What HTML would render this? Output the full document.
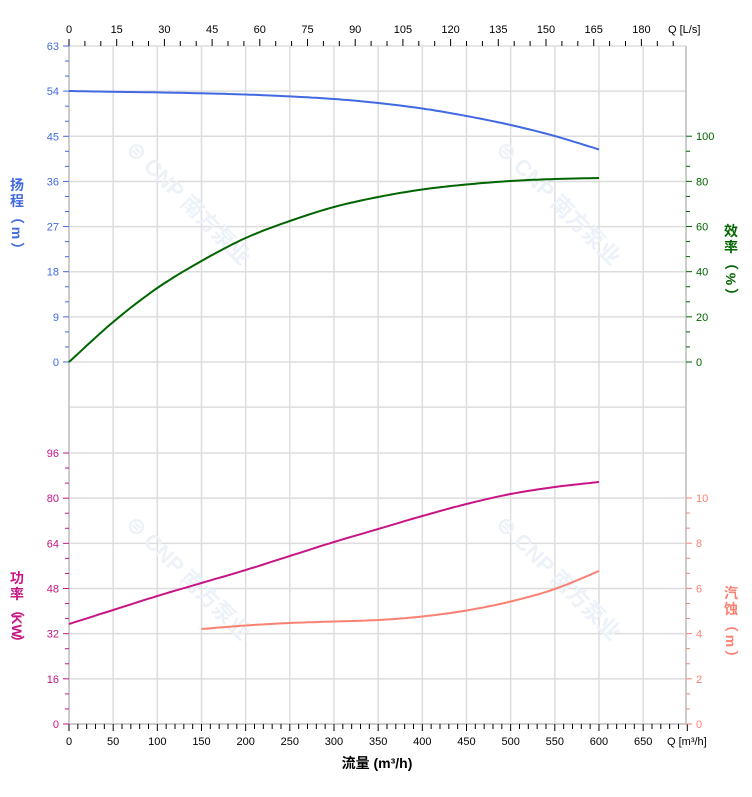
<!DOCTYPE html>
<html><head><meta charset="utf-8"><style>
html,body{margin:0;padding:0;background:#fff;}
svg{display:block;font-family:"Liberation Sans","Noto Sans CJK SC",sans-serif;}
</style></head><body>
<svg id="s" width="752" height="797" xmlns="http://www.w3.org/2000/svg"></svg>
<script>
var s=document.getElementById('s'),h='';
function X(q){return 69+q*0.8833;}
var L=69,R=686,T=46,B=724;
for(var q=50;q<=650;q+=50){h+='<line x1="'+X(q)+'" y1="'+T+'" x2="'+X(q)+'" y2="'+B+'" stroke="#ddd" stroke-width="1.5"/>';}
for(var i=-1;i<=7;i++){var y=362-i*45.14;h+='<line x1="'+L+'" y1="'+y+'" x2="'+R+'" y2="'+y+'" stroke="#ddd" stroke-width="1.5"/>';}
for(var i=0;i<=6;i++){var y=724-i*45.17;h+='<line x1="'+L+'" y1="'+y+'" x2="'+R+'" y2="'+y+'" stroke="#ddd" stroke-width="1.5"/>';}
[[125,150],[495,150],[125,525],[495,525]].forEach(function(p){h+='<text x="'+p[0]+'" y="'+p[1]+'" transform="rotate(45 '+p[0]+' '+p[1]+')" font-size="22" font-weight="bold" fill="#edf2f9">⊜ CNP 南方泵业</text>';});
h+='<line x1="'+L+'" y1="'+T+'" x2="'+L+'" y2="'+B+'" stroke="#ccc" stroke-width="2"/>';
h+='<line x1="'+R+'" y1="'+T+'" x2="'+R+'" y2="'+B+'" stroke="#ccc" stroke-width="2"/>';
h+='<line x1="'+L+'" y1="'+B+'" x2="'+R+'" y2="'+B+'" stroke="#ccc" stroke-width="2"/>';
for(var q=0;q<=700;q+=10){var x=X(q);var m=q%50==0;h+='<line x1="'+x+'" y1="'+B+'" x2="'+x+'" y2="'+(B+(m?7:5))+'" stroke="#000"/>';if(m&&q<=650)h+='<text x="'+x+'" y="745" font-size="11" text-anchor="middle">'+q+'</text>';}
h+='<text x="667" y="745" font-size="11">Q [m³/h]</text>';
for(var l=0;l<=190;l+=5){var x=69+l*3.18;if(x>R+1)break;var m=l%15==0;h+='<line x1="'+x+'" y1="'+T+'" x2="'+x+'" y2="'+(T-(m?7:5))+'" stroke="#000"/>';if(m)h+='<text x="'+x+'" y="33" font-size="11" text-anchor="middle">'+l+'</text>';}
h+='<text x="668" y="33" font-size="11">Q [L/s]</text>';
for(var v=0;v<=63;v+=3){var y=362-v*5.016;var m=v%9==0;h+='<line x1="'+L+'" y1="'+y+'" x2="'+(L-(m?6:4))+'" y2="'+y+'" stroke="#4169E1"/>';if(m)h+='<text x="59" y="'+(y+4)+'" font-size="11" text-anchor="end" fill="#4169E1">'+v+'</text>';}
for(var k=0;k<=18;k++){var v=k*16/3;var y=724-v*2.823;var m=k%3==0;h+='<line x1="'+L+'" y1="'+y+'" x2="'+(L-(m?6:4))+'" y2="'+y+'" stroke="#C71585"/>';if(m)h+='<text x="59" y="'+(y+4)+'" font-size="11" text-anchor="end" fill="#C71585">'+Math.round(v)+'</text>';}
for(var k=0;k<=15;k++){var v=k*20/3;var y=362-v*2.258;var m=k%3==0;h+='<line x1="'+R+'" y1="'+y+'" x2="'+(R+(m?6:4))+'" y2="'+y+'" stroke="#006400"/>';if(m)h+='<text x="696" y="'+(y+4)+'" font-size="11" fill="#006400">'+Math.round(v)+'</text>';}
for(var k=0;k<=15;k++){var v=k*2/3;var y=724-v*22.6;var m=k%3==0;h+='<line x1="'+R+'" y1="'+y+'" x2="'+(R+(m?6:4))+'" y2="'+y+'" stroke="#FA8072"/>';if(m)h+='<text x="696" y="'+(y+4)+'" font-size="11" fill="#FA8072">'+Math.round(v)+'</text>';}
function vt(x,y,c,arr){arr.forEach(function(t,i){h+='<text x="'+x+'" y="'+(y+i*16)+'" font-size="14" font-weight="bold" text-anchor="middle" fill="'+c+'"'+(t.r?' transform="rotate(90 '+x+' '+(y+i*16-5)+')"':'')+'>'+t.t+'</text>';});}
vt(17,190,'#4169E1',[{t:'扬'},{t:'程'},{t:'（',r:1},{t:'m',r:1},{t:'）',r:1}]);
vt(731,236,'#006400',[{t:'效'},{t:'率'},{t:'（',r:1},{t:'%',r:1},{t:'）',r:1}]);
vt(17,583,'#C71585',[{t:'功'},{t:'率'},{t:'（',r:1},{t:'KW',r:1},{t:'）',r:1}]);
vt(731,598,'#FA8072',[{t:'汽'},{t:'蚀'},{t:'（',r:1},{t:'m',r:1},{t:'）',r:1}]);
h+='<text x="377" y="768" font-size="14" font-weight="bold" text-anchor="middle">流量 (m³/h)</text>';
function curve(pts,c){var d='';pts.forEach(function(p,i){d+=(i?'L':'M')+X(p[0]).toFixed(1)+','+p[1];});h+='<path d="'+d+'" fill="none" stroke="'+c+'" stroke-width="2"/>';}
function smooth(pts){var o=[];for(var i=0;i<pts.length-1;i++){var p0=pts[Math.max(0,i-1)],p1=pts[i],p2=pts[i+1],p3=pts[Math.min(pts.length-1,i+2)];for(var t=0;t<1;t+=0.1){var t2=t*t,t3=t2*t;o.push([0.5*(2*p1[0]+(-p0[0]+p2[0])*t+(2*p0[0]-5*p1[0]+4*p2[0]-p3[0])*t2+(-p0[0]+3*p1[0]-3*p2[0]+p3[0])*t3),(0.5*(2*p1[1]+(-p0[1]+p2[1])*t+(2*p0[1]-5*p1[1]+4*p2[1]-p3[1])*t2+(-p0[1]+3*p1[1]-3*p2[1]+p3[1])*t3)).toFixed(1)]);}}o.push(pts[pts.length-1]);return o;}
curve(smooth([[0,91],[50,91.8],[100,92.4],[150,93.3],[200,94.5],[250,96.4],[300,99],[350,103],[400,108.5],[450,116],[500,125],[550,136],[600,149.5]]),'#4169E1');
curve(smooth([[0,362],[50,322],[100,288],[150,261],[200,238],[250,221],[300,207],[350,197],[400,189.5],[450,184.5],[500,181],[550,179],[600,178]]),'#006400');
curve(smooth([[0,624],[50,610],[100,596],[150,583],[200,570],[250,556],[300,542],[350,529],[400,516],[450,504],[500,494],[550,487],[600,482]]),'#C71585');
curve(smooth([[150,629],[200,625.5],[250,623],[300,621.5],[350,620],[400,616.5],[450,610.5],[500,601.5],[550,589],[600,571]]),'#FA8072');
s.innerHTML=h;
</script>
</body></html>
